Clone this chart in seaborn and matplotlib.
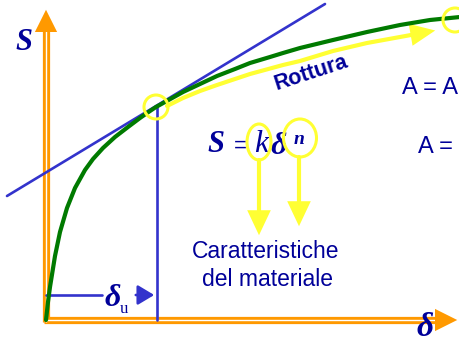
import numpy as np
import pandas as pd
import matplotlib.pyplot as plt
import seaborn as sns
from matplotlib.patches import Ellipse, Circle

sns.set_style("white")
plt.rcParams['font.family'] = ['Liberation Sans', 'DejaVu Sans']

# curva sforzo-deformazione (coordinate del disegno)
curve_delta = [46, 48, 50, 55, 60, 67, 75, 85, 93, 103, 115, 128, 140, 150, 156,
               165, 183, 200, 217, 235, 250, 270, 283, 300, 333, 367, 400, 430, 460]
curve_S = [320, 302, 287, 256, 232, 208, 188, 170, 159, 148, 137, 127, 118, 111, 107,
           102, 92, 84, 76, 69, 63, 57, 53, 48, 40, 32, 25, 20, 17]

# tangente nel punto di inizio della strizione
tang_delta = [7, 325]
tang_S = [196, 4]

# percorso della freccia gialla "Rottura"
rott_delta = [167, 183, 200, 217, 250, 283, 300, 333, 367, 400, 422]
rott_S = [106, 98, 91, 85, 74, 65, 61, 51, 43, 37, 33]

delta_u = 157
S_u = 107
origin = (46, 320)

navy = '#000099'
blu = '#3333CC'
arancio = '#FF9900'
giallo = '#FFFF33'
verde = '#007A00'

fig = plt.figure(figsize=(4.6, 3.44), dpi=100)
ax = fig.add_axes([0, 0, 1, 1])

df_curve = pd.DataFrame({'delta': curve_delta, 'S': curve_S})
df_tang = pd.DataFrame({'delta': tang_delta, 'S': tang_S})
df_rott = pd.DataFrame({'delta': rott_delta, 'S': rott_S})

# assi arancioni (linea doppia)
ox, oy = origin
for lw, c in [(5.2, arancio), (1.0, 'white')]:
    ax.plot([ox, ox], [oy + 2, 28], color=c, lw=lw, solid_capstyle='butt', zorder=2)
    ax.plot([ox - 2, 440], [oy, oy], color=c, lw=lw, solid_capstyle='butt', zorder=2)
ax.annotate('', xy=(ox, 7), xytext=(ox, 30),
            arrowprops=dict(arrowstyle='-|>,head_length=1.6,head_width=0.8',
                            color=arancio, lw=0, mutation_scale=10), zorder=3)
ax.annotate('', xy=(460, oy), xytext=(437, oy),
            arrowprops=dict(arrowstyle='-|>,head_length=1.6,head_width=0.8',
                            color=arancio, lw=0, mutation_scale=10), zorder=3)

# tangente e verticale
sns.lineplot(data=df_tang, x='delta', y='S', color=blu, lw=1.9, sort=False,
             estimator=None, ax=ax, zorder=4)
ax.plot([delta_u, delta_u], [S_u, oy], color=blu, lw=1.9, zorder=4)

# freccia gialla
sns.lineplot(data=df_rott, x='delta', y='S', color=giallo, lw=3, sort=False,
             estimator=None, ax=ax, zorder=3)
ax.annotate('', xy=(438, 30), xytext=(418, 33.5),
            arrowprops=dict(arrowstyle='-|>,head_length=1.8,head_width=0.8',
                            color=giallo, lw=0, mutation_scale=10), zorder=3)

# curva verde
sns.lineplot(data=df_curve, x='delta', y='S', color=verde, lw=3, sort=False,
             estimator=None, ax=ax, zorder=5)

# cerchi gialli
ax.add_patch(Circle((delta_u - 1, S_u), 12, fill=False, ec=giallo, lw=2.2, zorder=6))
ax.add_patch(Circle((455, 20), 12, fill=False, ec=giallo, lw=2.2, zorder=6))

# delta_u
ax.plot([ox, 102], [295, 295], color=blu, lw=1.9, zorder=4)
ax.annotate('', xy=(157, 295), xytext=(133, 295),
            arrowprops=dict(arrowstyle='-|>,head_length=1.0,head_width=0.6',
                            color=blu, lw=1.9, mutation_scale=10), zorder=4)
serif = ['Liberation Serif', 'DejaVu Serif']
ax.text(113, 299, 'δ', family=serif, fontsize=23, fontweight='bold', fontstyle='italic',
        color=navy, ha='center', va='center')
ax.text(124, 309, 'u', family=serif, fontsize=12, color=navy, ha='center', va='center')

# etichette assi
ax.text(24, 42, 'S', family=serif, fontsize=22, fontweight='bold', fontstyle='italic',
        color=navy, ha='center', va='center')
ax.text(425, 328, 'δ', family=serif, fontsize=24, fontweight='bold', fontstyle='italic',
        color=navy, ha='center', va='center')

# formula
ax.text(216, 145, 'S', family=serif, fontsize=22, fontweight='bold', fontstyle='italic',
        color=navy, ha='center', va='center')
ax.text(240, 146, '=', fontsize=16, color=navy, ha='center', va='center')
ax.text(261, 144, 'k', family=serif, fontsize=23, fontstyle='italic',
        color=navy, ha='center', va='center')
ax.text(279, 146, 'δ', family=serif, fontsize=23, fontweight='bold', fontstyle='italic',
        color=navy, ha='center', va='center')
ax.text(299, 139, 'n', family=serif, fontsize=14, fontweight='bold', fontstyle='italic',
        color=navy, ha='center', va='center')
ax.add_patch(Ellipse((259, 142), 24, 36, fill=False, ec=giallo, lw=2.2, zorder=6))
ax.add_patch(Ellipse((300, 138), 33, 38, fill=False, ec=giallo, lw=2.2, zorder=6))

# frecce gialle verso il basso
for x0, y0, y1 in [(259, 160, 238), (299, 157, 229)]:
    ax.plot([x0, x0], [y0, y1 - 15], color=giallo, lw=3, zorder=3)
    ax.annotate('', xy=(x0, y1), xytext=(x0, y1 - 18),
                arrowprops=dict(arrowstyle='-|>,head_length=1.8,head_width=0.85',
                                color=giallo, lw=0, mutation_scale=10), zorder=3)

ax.text(266, 252, 'Caratteristiche', fontsize=16.5, color=navy, ha='center', va='center')
ax.text(268, 280, 'del materiale', fontsize=16.5, color=navy, ha='center', va='center')

ax.text(311, 73, 'Rottura', fontsize=15.5, fontweight='bold', color=navy,
        ha='center', va='center', rotation=18, rotation_mode='anchor')

ax.text(402, 88, 'A = A', fontsize=17, color=navy, ha='left', va='center')
ax.text(418, 147, 'A =', fontsize=17, color=navy, ha='left', va='center')

ax.set_xlim(0, 460)
ax.set_ylim(344, 0)
ax.set_axis_off()

fig.savefig('out.png', dpi=100)
